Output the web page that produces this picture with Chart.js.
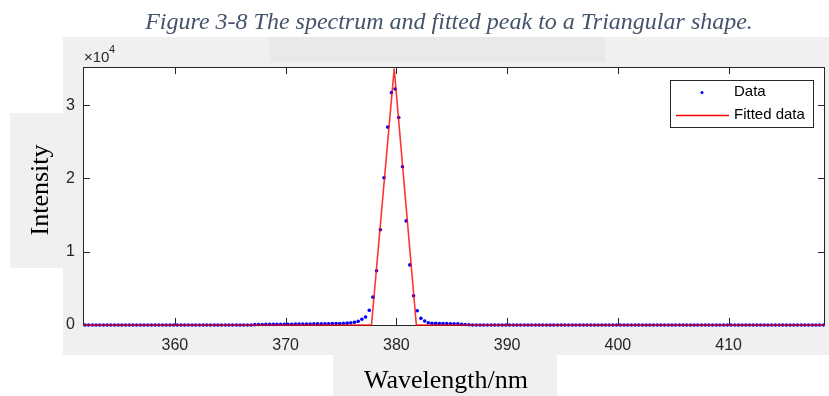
<!DOCTYPE html>
<html>
<head>
<meta charset="utf-8">
<script src="https://cdn.jsdelivr.net/npm/chart.js@4"></script>
<style>
html,body{margin:0;padding:0;background:#fff}
canvas{display:block}
</style>
</head>
<body>
<canvas id="spec" width="829" height="396"></canvas>
<script>
// measured spectrum (nm)
const wavelength=[351.88,
352.21,352.55,352.88, 353.21,353.55,353.88, 354.21,354.55,354.88,
355.21,355.55,355.88, 356.21,356.55,356.88, 357.21,357.55,357.88,
358.21,358.55,358.88, 359.21,359.55,359.88, 360.21,360.55,360.88,
361.21,361.55,361.88, 362.21,362.55,362.88, 363.21,363.55,363.88,
364.21,364.55,364.88, 365.21,365.55,365.88, 366.21,366.55,366.88,
367.21,367.55,367.88, 368.21,368.55,368.88, 369.21,369.55,369.88,
370.21,370.55,370.88, 371.21,371.55,371.88, 372.21,372.55,372.88,
373.21,373.55,373.88, 374.21,374.55,374.88, 375.21,375.55,375.88,
376.21,376.55,376.88, 377.21,377.55,377.88, 378.21,378.55,378.88,
379.21,379.55,379.88, 380.21,380.55,380.88, 381.21,381.55,381.88,
382.21,382.55,382.88, 383.21,383.55,383.88, 384.21,384.55,384.88,
385.21,385.55,385.88, 386.21,386.55,386.88, 387.21,387.55,387.88,
388.21,388.55,388.88, 389.21,389.55,389.88, 390.21,390.55,390.88,
391.21,391.55,391.88, 392.21,392.55,392.88, 393.21,393.55,393.88,
394.21,394.55,394.88, 395.21,395.55,395.88, 396.21,396.55,396.88,
397.21,397.55,397.88, 398.21,398.55,398.88, 399.21,399.55,399.88,
400.21,400.55,400.88, 401.21,401.55,401.88, 402.21,402.55,402.88,
403.21,403.55,403.88, 404.21,404.55,404.88, 405.21,405.55,405.88,
406.21,406.55,406.88, 407.21,407.55,407.88, 408.21,408.55,408.88,
409.21,409.55,409.88, 410.21,410.55,410.88, 411.21,411.55,411.88,
412.21,412.55,412.88, 413.21,413.55,413.88, 414.21,414.55,414.88,
415.21,415.55,415.88, 416.21,416.55,416.88, 417.21,417.55,417.88,
418.21,418.55]
const intensity=[0,
0,0,0, 0,0,0, 0,0,0,
0,0,0, 0,0,0, 0,0,0,
0,0,0, 0,0,0, 0,0,0,
0,0,0, 0,0,0, 0,0,0,
0,0,0, 0,0,0, 0,0,0,
50,60,70, 80,80,90, 90,100,100,
110,110,120, 120,130,130, 140,150,150,
160,170,180, 190,200,210, 230,250,300,
370,500,780, 1100,2000,3800, 7400,13000,20100,
27000,31700,32200, 28300,21600,14200, 8200,4000,1950,
910,545,314, 230,220,210, 200,190,180,
170,160,90, 60,40,0, 0,0,0,
0,0,0, 0,0,0, 0,0,0,
0,0,0, 0,0,0, 0,0,0,
0,0,0, 0,0,0, 0,0,0,
0,0,0, 0,0,0, 0,0,0,
0,0,0, 0,0,0, 0,0,0,
0,0,0, 0,0,0, 0,0,0,
0,0,0, 0,0,0, 0,0,0,
0,0,0, 0,0,0, 0,0,0,
0,0,0, 0,0,0, 0,0,0,
0,0,0, 0,0,0, 0,0,0,
0,0]
// triangular fit
const fitWavelength=[351.7,377.75,379.8,381.8,418.7]
const fitIntensity=[0,0,35000,0,0]
const xTicks=[360,370,380,390,400,410]
const yTicks=[0,10000,20000,30000]

const serif='"Liberation Serif","Times New Roman",serif'
const sans='"Liberation Sans",Arial,sans-serif'

const frame={
  id:'frame',
  beforeDraw(c){
    const x=c.ctx,a=c.chartArea
    x.save()
    x.fillStyle='#fff';x.fillRect(0,0,829,396)
    x.fillStyle='#f0f0f0'
    x.fillRect(63,37,766,318)
    x.fillRect(10,113,53,155)
    x.fillRect(333,355,224,41)
    x.fillStyle='#e9e9e9';x.fillRect(270,37,335,25)
    x.fillStyle='#fff';x.fillRect(a.left,a.top,a.right-a.left,a.bottom-a.top)

    x.fillStyle='#44546a';x.textAlign='center';x.textBaseline='alphabetic'
    x.font='italic 24px '+serif
    x.fillText('Figure 3-8 The spectrum and fitted peak to a Triangular shape.',449,29)
    x.fillStyle='#000';x.font='26px '+serif
    x.fillText('Wavelength/nm',446,388)
    x.save();x.translate(48,190);x.rotate(-Math.PI/2)
    x.fillText('Intensity',0,0);x.restore()

    x.fillStyle='#262626';x.textAlign='left'
    x.font='15px '+sans;x.fillText('\u00d710',84,62)
    x.font='11px '+sans;x.fillText('4',109,53)
    x.restore()
  },
  beforeDatasetsDraw(c){
    const x=c.ctx,a=c.chartArea,sx=c.scales.x,sy=c.scales.y
    x.save()
    x.strokeStyle='#262626';x.lineWidth=1
    x.strokeRect(a.left+.5,a.top+.5,a.right-a.left-1,a.bottom-a.top)
    x.beginPath()
    xTicks.forEach(v=>{
      const p=Math.round(sx.getPixelForValue(v))+.5
      x.moveTo(p,a.bottom);x.lineTo(p,a.bottom-7)
      x.moveTo(p,a.top);x.lineTo(p,a.top+7)
    })
    yTicks.forEach(v=>{
      const p=Math.round(sy.getPixelForValue(v))+.5
      x.moveTo(a.left,p);x.lineTo(a.left+7,p)
      x.moveTo(a.right,p);x.lineTo(a.right-7,p)
    })
    x.stroke()
    x.restore()
  },
  afterDraw(c){
    const x=c.ctx
    x.save()
    x.fillStyle='#fff';x.fillRect(670,80,144,47)
    x.strokeStyle='#262626';x.lineWidth=1;x.strokeRect(670.5,80.5,143,47)
    x.fillStyle='#0000ff';x.beginPath();x.arc(702,92.5,1.5,0,Math.PI*2);x.fill()
    x.strokeStyle='#ff0000';x.lineWidth=1.5
    x.beginPath();x.moveTo(676,115.5);x.lineTo(729,115.5);x.stroke()
    x.fillStyle='#000';x.font='15px '+sans;x.textBaseline='middle';x.textAlign='left'
    x.fillText('Data',734,92)
    x.fillText('Fitted data',734,115)
    x.restore()
  }
}

new Chart(document.getElementById('spec'),{
  type:'scatter',
  data:{
    datasets:[
      {label:'Fitted data',data:fitWavelength.map((w,i)=>({x:w,y:fitIntensity[i]})),
        showLine:true,borderColor:'rgba(255,0,0,0.8)',borderWidth:1.6,pointRadius:0,clip:false},
      {label:'Data',data:wavelength.map((w,i)=>({x:w,y:intensity[i]})),
        pointRadius:1.8,pointBorderWidth:0,pointBackgroundColor:'#0000ff',clip:false}
    ]
  },
  options:{
    responsive:false,animation:false,events:[],
    layout:{padding:{left:63,right:1,top:67,bottom:41}},
    plugins:{legend:{display:false},title:{display:false},tooltip:{enabled:false}},
    scales:{
      x:{type:'linear',min:351.7,max:418.7,
        grid:{display:false,drawTicks:false},border:{display:false},
        afterBuildTicks:s=>{s.ticks=xTicks.map(v=>({value:v}))},
        afterFit:s=>{s.height=30},
        ticks:{padding:11,color:'#262626',font:{family:sans,size:16},maxRotation:0}},
      y:{type:'linear',min:0,max:35200,
        grid:{display:false,drawTicks:false},border:{display:false},
        afterBuildTicks:s=>{s.ticks=yTicks.map(v=>({value:v}))},
        afterFit:s=>{s.width=20},
        ticks:{padding:8,color:'#262626',font:{family:sans,size:16},callback:v=>v/10000}}
    }
  },
  plugins:[frame]
})
</script>
</body>
</html>
